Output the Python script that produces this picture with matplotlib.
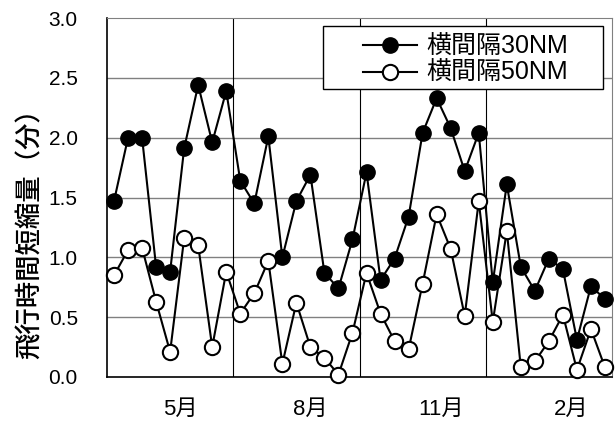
import numpy as np
import matplotlib
matplotlib.use('Agg')
import matplotlib.pyplot as plt
from matplotlib.patches import Rectangle

plt.rcParams['font.family'] = ['Liberation Sans', 'Noto Sans CJK JP', 'DejaVu Sans']

# 上旬・中旬・下旬 x 12 months (Apr - Mar)
sep30 = [1.47, 2.00, 2.00, 0.92, 0.88, 1.91, 2.44, 1.96, 2.39,
         1.64, 1.45, 2.01, 1.00, 1.47, 1.69, 0.87, 0.74, 1.15,
         1.71, 0.81, 0.99, 1.34, 2.04, 2.33, 2.08, 1.72, 2.04,
         0.79, 1.61, 0.92, 0.72, 0.99, 0.90, 0.31, 0.76, 0.65]
sep50 = [0.85, 1.06, 1.08, 0.63, 0.21, 1.16, 1.10, 0.25, 0.88,
         0.53, 0.70, 0.97, 0.11, 0.62, 0.25, 0.16, 0.02, 0.37,
         0.87, 0.53, 0.30, 0.23, 0.78, 1.36, 1.07, 0.51, 1.47,
         0.46, 1.22, 0.08, 0.13, 0.30, 0.52, 0.06, 0.40, 0.08]
month_labels = ['5月', '8月', '11月', '2月']
label_pos = [4.7, 14.0, 23.3, 32.6]
names = ['横間隔30NM', '横間隔50NM']

x = np.arange(len(sep30))

fig = plt.figure(figsize=(6.16, 4.26), dpi=100)
ax = fig.add_axes([107/616, 1-377/426, 505/616, 359/426])

ax.plot(x, sep30, '-o', color='black', lw=1.5, ms=11,
        mfc='black', mec='black', label=names[0], clip_on=False, zorder=3)
ax.plot(x, sep50, '-o', color='black', lw=1.5, ms=11,
        mfc='white', mec='black', mew=1.5, label=names[1], clip_on=False, zorder=4)

ax.set_xlim(-0.5, 35.5)
ax.set_ylim(0, 3.0)
ax.set_yticks(np.arange(0, 3.01, 0.5))
ax.set_yticklabels(['%.1f' % v for v in np.arange(0, 3.01, 0.5)], fontsize=15)
ax.tick_params(axis='y', length=0, pad=21)
ax.set_xticks(label_pos)
ax.set_xticklabels(month_labels, fontsize=16)
ax.tick_params(axis='x', length=0, pad=16)

for yv in np.arange(0.5, 3.0, 0.5):
    ax.axhline(yv, color='#808080', lw=1.0, zorder=1)
for xv in [8.5, 17.5, 26.5]:
    ax.axvline(xv, color='black', lw=0.8, zorder=1)

ax.spines['left'].set_linewidth(1.2)
ax.spines['bottom'].set_linewidth(1.2)
ax.spines['top'].set_color('#808080')
ax.spines['right'].set_color('#808080')

fig.text(30/616, 1-227/426, '飛行時間短縮量（分）', rotation=90,
         ha='center', va='center', fontsize=19, fontweight='medium')

# legend frame drawn separately (Excel style padding)
box = Rectangle((0.427, 0.801), 0.555, 0.177, transform=ax.transAxes,
                facecolor='white', edgecolor='black', lw=1.0,
                zorder=5, clip_on=False)
ax.add_patch(box)
leg = ax.legend(loc='upper left', bbox_to_anchor=(0.507, 0.953),
                borderaxespad=0, borderpad=0, fontsize=18, frameon=False,
                handlelength=2.16, handletextpad=0.36, labelspacing=0.1)
leg.set_zorder(6)

fig.savefig('out.png', dpi=100)
